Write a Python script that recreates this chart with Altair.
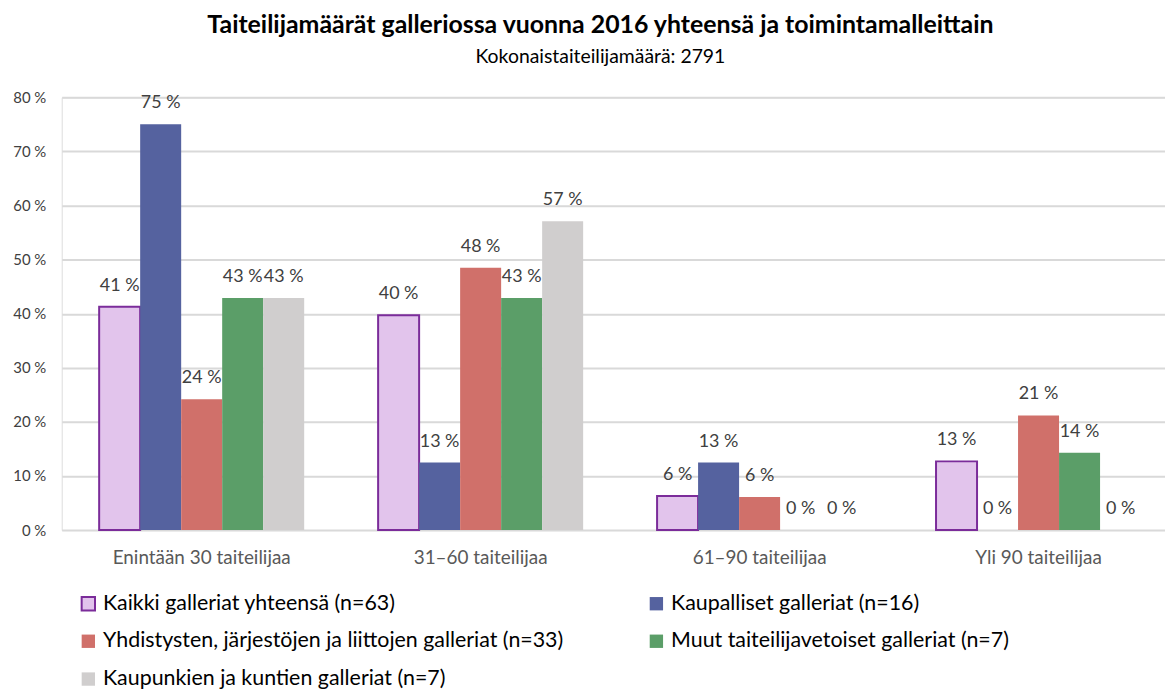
import altair as alt
import pandas as pd

categories = ["Enintään 30 taiteilijaa", "31–60 taiteilijaa", "61–90 taiteilijaa", "Yli 90 taiteilijaa"]
series = [
    "Kaikki galleriat yhteensä (n=63)",
    "Kaupalliset galleriat (n=16)",
    "Yhdistysten, järjestöjen ja liittojen galleriat (n=33)",
    "Muut taiteilijavetoiset galleriat (n=7)",
    "Kaupunkien ja kuntien galleriat (n=7)",
]
kaikki = [41.3, 39.7, 6.3, 12.7]
kaupalliset = [75.0, 12.5, 12.5, 0.0]
yhdistysten = [24.2, 48.48, 6.1, 21.2]
muut = [42.9, 42.9, 0.0, 14.3]
kaupunkien = [42.9, 57.1, 0.0, 0.0]

fills = ["#e2c4ec", "#55629f", "#d0706a", "#5b9e68", "#d0cece"]
strokes = ["#7b2c9a", "transparent", "transparent", "transparent", "transparent"]

values = [kaikki, kaupalliset, yhdistysten, muut, kaupunkien]
rows = []
for s, vals in zip(series, values):
    for c, v in zip(categories, vals):
        rows.append({"category": c, "series": s, "value": v})
df = pd.DataFrame(rows)

FONT = "Lato"

x = alt.X("category:N", sort=categories, title=None,
          scale=alt.Scale(paddingInner=0.265, paddingOuter=0.11, align=0.61),
          axis=alt.Axis(labelFont=FONT, labelFontSize=19, labelColor="#595959",
                        labelAngle=0, domain=False, ticks=False, labelPadding=19))
xo = alt.XOffset("series:N", sort=series, scale=alt.Scale(paddingInner=0, paddingOuter=0))

base = alt.Chart(df).encode(x=x, xOffset=xo)

bars = base.mark_bar(strokeWidth=2).encode(
    y=alt.Y("value:Q", title=None,
            scale=alt.Scale(domain=[0, 80], nice=False),
            axis=alt.Axis(values=[0, 10, 20, 30, 40, 50, 60, 70, 80],
                          labelExpr="datum.value + ' %'",
                          labelFont=FONT, labelFontSize=15, labelColor="#404040",
                          domain=False, ticks=False, labelPadding=16,
                          gridColor="#d9d9d9", gridWidth=2)),
    fill=alt.Fill("series:N", sort=series,
                  scale=alt.Scale(domain=series, range=fills),
                  legend=alt.Legend(title=None, orient="none", legendX=16, legendY=498,
                                    columns=2, direction="horizontal",
                                    gridAlign="all", columnPadding=82, rowPadding=15,
                                    symbolType="square", symbolSize=180, symbolStrokeWidth=2,
                                    labelFont=FONT, labelFontSize=21.5, labelColor="#000000",
                                    labelLimit=700, labelOffset=4)),
    stroke=alt.Stroke("series:N", sort=series,
                      scale=alt.Scale(domain=series, range=strokes), legend=None),
)

labels = base.mark_text(baseline="bottom", dy=-12, font=FONT, fontSize=18, color="#404040").encode(
    y=alt.Y("value:Q"),
    text=alt.Text("label:N"),
).transform_calculate(label="format(datum.value, '.0f') + ' %'")

chart = alt.layer(bars, labels).properties(
    width=1109, height=435,
    padding={"left": 54, "top": 88, "right": 0, "bottom": 166},
    autosize=alt.AutoSizeParams(type="none"),
    title=alt.TitleParams(
        "Taiteilijamäärät  galleriossa vuonna 2016 yhteensä ja toimintamalleittain",
        subtitle="Kokonaistaiteilijamäärä: 2791",
        font=FONT, fontSize=25, fontWeight="bold", color="#000000",
        subtitleFont=FONT, subtitleFontSize=19.5, subtitleColor="#000000",
        subtitlePadding=10, anchor="middle", offset=24, dx=-13,
    ),
).configure_view(stroke=None).configure(background="white")

chart.save("out.html", embed_options={"renderer": "svg", "actions": False})
